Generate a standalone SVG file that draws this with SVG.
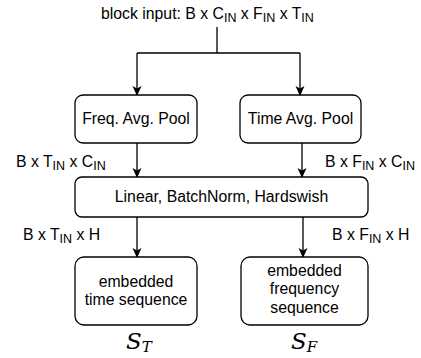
<svg xmlns="http://www.w3.org/2000/svg" width="421" height="358" viewBox="0 0 421 358">
<style>
.box{fill:#fff;stroke:#000;stroke-width:1.3}
.t{font-family:"Liberation Sans",Arial,sans-serif;font-size:15.8px;fill:#000}
.c{text-anchor:middle}
.sub{font-size:12.5px}
.ln{fill:none;stroke:#000;stroke-width:1.3}
.m{font-family:"DejaVu Serif","Liberation Serif",serif;font-style:italic;fill:#000}
</style>
<defs>
<marker id="ah" markerWidth="10" markerHeight="10" refX="9" refY="5" orient="auto" markerUnits="userSpaceOnUse">
<path d="M0,0.5 L10,5 L0,9.5 L2.5,5 Z" fill="#000"/>
</marker>
</defs>
<rect width="421" height="358" fill="#fff"/>
<g id="input">
<text class="t" x="101" y="19">block input: B x C<tspan class="sub" dy="3">IN</tspan><tspan dy="-3"> x F</tspan><tspan class="sub" dy="3">IN</tspan><tspan dy="-3"> x T</tspan><tspan class="sub" dy="3">IN</tspan></text>
</g>
<g id="connectors">
<path class="ln" d="M217,27 V53 M137,53 H300"/>
<path class="ln" d="M137,53 V95" marker-end="url(#ah)"/>
<path class="ln" d="M300,53 V95" marker-end="url(#ah)"/>
<path class="ln" d="M137,143 V177" marker-end="url(#ah)"/>
<path class="ln" d="M302,143 V177" marker-end="url(#ah)"/>
<path class="ln" d="M137,217 V257" marker-end="url(#ah)"/>
<path class="ln" d="M303,217 V257" marker-end="url(#ah)"/>
</g>
<g id="labels">
<text class="t" x="16" y="167">B x T<tspan class="sub" dy="3">IN</tspan><tspan dy="-3"> x C</tspan><tspan class="sub" dy="3">IN</tspan></text>
<text class="t" x="325" y="167">B x F<tspan class="sub" dy="3">IN</tspan><tspan dy="-3"> x C</tspan><tspan class="sub" dy="3">IN</tspan></text>
<text class="t" x="23" y="240">B x T<tspan class="sub" dy="3">IN</tspan><tspan dy="-3"> x H</tspan></text>
<text class="t" x="332" y="240">B x F<tspan class="sub" dy="3">IN</tspan><tspan dy="-3"> x H</tspan></text>
</g>
<g id="freq-pool">
<rect class="box" x="75" y="95" width="122" height="48" rx="8"/>
<text class="t c" x="136" y="124">Freq. Avg. Pool</text>
</g>
<g id="time-pool">
<rect class="box" x="240" y="95" width="121" height="48" rx="8"/>
<text class="t c" x="300.5" y="124">Time Avg. Pool</text>
</g>
<g id="linear">
<rect class="box" x="75" y="177" width="293" height="40" rx="7"/>
<text class="t c" x="221.5" y="202">Linear, BatchNorm, Hardswish</text>
</g>
<g id="time-seq">
<rect class="box" x="75" y="257" width="122" height="68" rx="9"/>
<text class="t c" x="136" y="287">embedded</text>
<text class="t c" x="136" y="305">time sequence</text>
</g>
<g id="freq-seq">
<rect class="box" x="241" y="257" width="127" height="68" rx="9"/>
<text class="t c" x="304.5" y="276">embedded</text>
<text class="t c" x="304.5" y="294">frequency</text>
<text class="t c" x="304.5" y="313">sequence</text>
</g>
<g id="st">
<text class="m" x="126" y="349" font-size="23">S<tspan font-size="15" dy="3">T</tspan></text>
</g>
<g id="sf">
<text class="m" x="291" y="349" font-size="23">S<tspan font-size="15" dy="3">F</tspan></text>
</g>
</svg>
